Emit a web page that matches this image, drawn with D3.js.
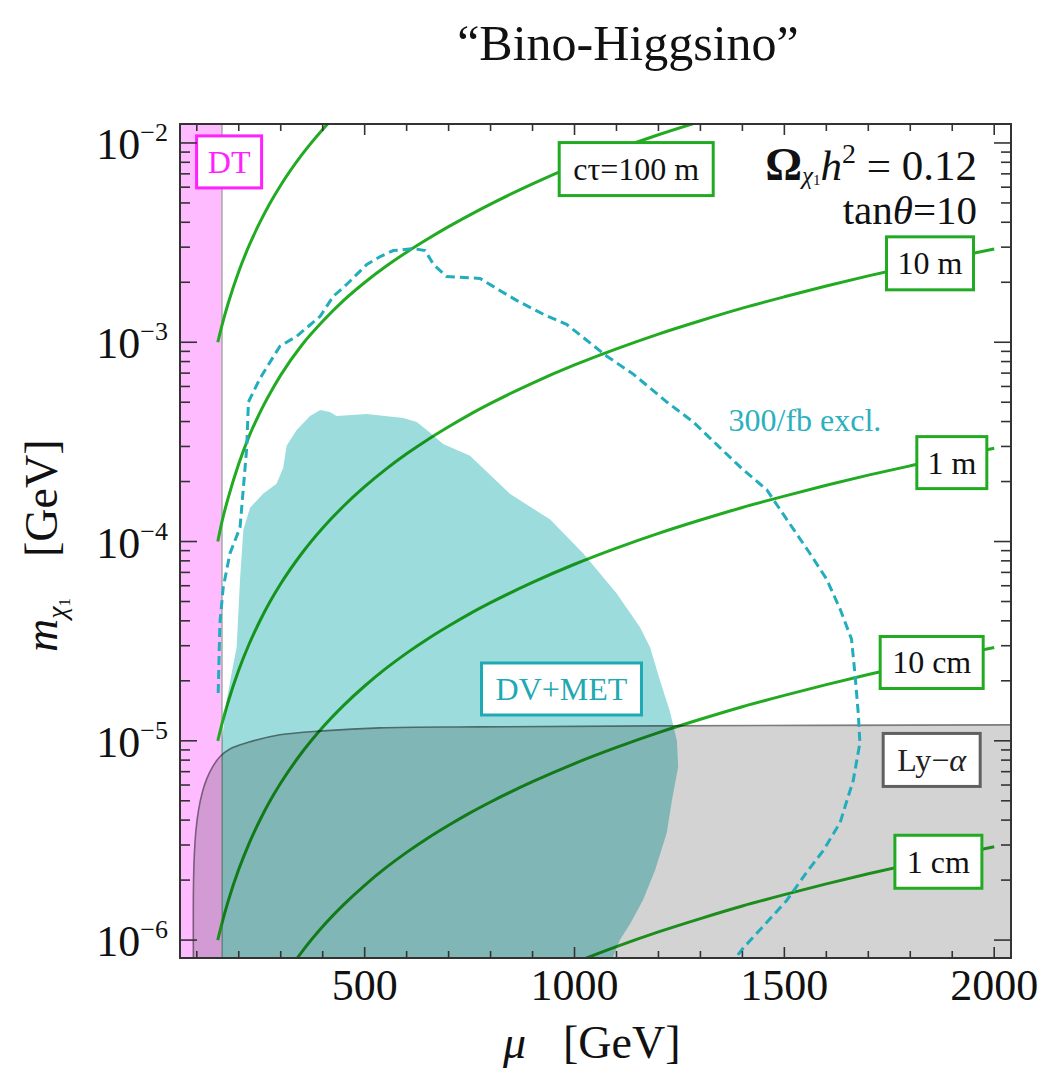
<!DOCTYPE html>
<html>
<head>
<meta charset="utf-8">
<script src="https://cdn.jsdelivr.net/npm/d3@7"></script>
<style>
  body { margin: 0; background: #fff; }
  text { font-family: 'Liberation Serif', 'DejaVu Serif', serif; }
</style>
</head>
<body>
<div id="chart"></div>
<script>
// ---- data (mu in GeV, log10 of m_chi1 in GeV) ----
const muRange = [60, 2040];
const mRange = [8.13e-7, 1.245e-2];
const dtRange = [60, 160];           // disappearing-track band

// c*tau contours, read on a shared mu grid
const ctMu = [150, 160, 175, 200, 225, 250, 275, 300, 350, 400, 450, 500, 550, 600, 650, 700, 750, 800, 900, 1000, 1100, 1200, 1300, 1400, 1500, 1600, 1700, 1800, 1900, 2000];
const ct1000m = [-3.000, -2.915, -2.803, -2.645, -2.513, -2.400, -2.300, -2.212, -2.060, -1.932, -1.822];
const ct100m  = [-4.000, -3.900, -3.780, -3.610, -3.470, -3.355, -3.255, -3.165, -3.015, -2.895, -2.790, -2.700, -2.620, -2.548, -2.482, -2.420, -2.362, -2.307, -2.205, -2.114, -2.033, -1.959, -1.892, -1.829];
const ct10m   = [-5.000, -4.915, -4.803, -4.645, -4.513, -4.400, -4.300, -4.212, -4.060, -3.932, -3.822, -3.725, -3.638, -3.560, -3.489, -3.424, -3.363, -3.307, -3.205, -3.114, -3.033, -2.959, -2.892, -2.829, -2.772, -2.718, -2.667, -2.620, -2.575, -2.532];
const ct1m    = [-6.000, -5.915, -5.803, -5.645, -5.513, -5.400, -5.300, -5.212, -5.060, -4.932, -4.822, -4.725, -4.638, -4.560, -4.489, -4.424, -4.363, -4.307, -4.205, -4.114, -4.033, -3.959, -3.892, -3.829, -3.772, -3.718, -3.667, -3.620, -3.575, -3.532];
const ct10cm  = [-7.000, -6.915, -6.803, -6.645, -6.513, -6.400, -6.300, -6.212, -6.060, -5.932, -5.822, -5.725, -5.638, -5.560, -5.489, -5.424, -5.363, -5.307, -5.205, -5.114, -5.033, -4.959, -4.892, -4.829, -4.772, -4.718, -4.667, -4.620, -4.575, -4.532];
const ct1cm   = [-8.000, -7.915, -7.803, -7.645, -7.513, -7.400, -7.300, -7.212, -7.060, -6.932, -6.822, -6.725, -6.638, -6.560, -6.489, -6.424, -6.363, -6.307, -6.205, -6.114, -6.033, -5.959, -5.892, -5.829, -5.772, -5.718, -5.667, -5.620, -5.575, -5.532];

// DV+MET reach (filled)
const dvMu   = [160, 160, 171, 184, 195, 203, 211, 227, 258, 290, 306, 314, 338, 370, 394, 417, 433, 505, 592, 624, 648, 687, 751, 806, 846, 942, 1021, 1100, 1156, 1180, 1204, 1227, 1244, 1247, 1232, 1220, 1192, 1163, 1132, 1108, 1085];
const dvLogM = [-6.12, -5.00, -4.80, -4.65, -4.53, -4.19, -3.94, -3.83, -3.76, -3.71, -3.63, -3.52, -3.44, -3.37, -3.34, -3.35, -3.37, -3.36, -3.38, -3.40, -3.44, -3.51, -3.57, -3.68, -3.76, -3.89, -4.06, -4.26, -4.43, -4.53, -4.70, -4.85, -5.00, -5.13, -5.30, -5.46, -5.65, -5.80, -5.92, -6.00, -6.12];

// 300/fb exclusion (dashed)
const exclMu   = [151, 155, 163, 179, 203, 219, 223, 251, 298, 338, 394, 425, 457, 505, 537, 568, 616, 644, 664, 695, 775, 822, 862, 926, 981, 1029, 1077, 1140, 1220, 1283, 1347, 1402, 1458, 1506, 1561, 1601, 1633, 1660, 1668, 1676, 1680, 1664, 1649, 1633, 1593, 1553, 1506, 1450, 1402, 1372];
const exclLogM = [-4.76, -4.41, -4.23, -4.06, -3.93, -3.53, -3.30, -3.18, -3.02, -2.97, -2.87, -2.77, -2.71, -2.61, -2.57, -2.54, -2.53, -2.54, -2.61, -2.67, -2.68, -2.74, -2.79, -2.86, -2.91, -2.99, -3.07, -3.16, -3.30, -3.40, -3.53, -3.64, -3.74, -3.89, -4.06, -4.19, -4.34, -4.49, -4.66, -4.86, -5.01, -5.20, -5.30, -5.41, -5.55, -5.66, -5.80, -5.93, -6.04, -6.12];

// Lyman-alpha bound (filled): top-left edge, then closed along the frame
const lyaMu   = [92, 92, 94, 98, 104, 113, 124, 138, 155, 180, 219, 298, 401, 537, 775, 1200, 2060];
const lyaLogM = [-6.12, -5.75, -5.58, -5.45, -5.35, -5.26, -5.19, -5.13, -5.08, -5.04, -5.01, -4.97, -4.95, -4.935, -4.93, -4.925, -4.92];

const xLabelTicks = [500, 1000, 1500, 2000];
const yLabelTicks = [-6, -5, -4, -3, -2];

// ---- layout ----
const W = 1048, H = 1074;
const pL = 180, pR = 1011, pT = 124, pB = 958;
const green = "#22ab22", teal = "#9cdcdc", cyan = "#22adbd";

const svg = d3.select("#chart").append("svg")
  .attr("width", W).attr("height", H);

const x = d3.scaleLinear().domain(muRange).range([pL, pR]);
const y = d3.scaleLog().domain(mRange).range([pB, pT]);
const pt = (mu, lm) => [x(mu), y(Math.pow(10, lm))];

svg.append("defs").append("clipPath").attr("id", "plot")
  .append("rect").attr("x", pL).attr("y", pT)
  .attr("width", pR - pL).attr("height", pB - pT);

const g = svg.append("g").attr("clip-path", "url(#plot)");

// DT band
g.append("rect")
  .attr("x", x(dtRange[0])).attr("y", pT)
  .attr("width", x(dtRange[1]) - x(dtRange[0])).attr("height", pB - pT)
  .attr("fill", "#ffbbff");
g.append("line")
  .attr("x1", x(dtRange[1])).attr("x2", x(dtRange[1]))
  .attr("y1", pT).attr("y2", pB)
  .attr("stroke", "#a8a8a8").attr("stroke-width", 1.5);

// c*tau lines
const line = d3.line().curve(d3.curveMonotoneX);
[ct1000m, ct100m, ct10m, ct1m, ct10cm, ct1cm].forEach(vals => {
  g.append("path")
    .attr("d", line(vals.map((v, i) => pt(ctMu[i], v))))
    .attr("fill", "none")
    .attr("stroke", green)
    .attr("stroke-width", 3);
});

// DV+MET region
g.append("path")
  .attr("d", d3.line()(dvMu.map((m, i) => pt(m, dvLogM[i]))) + "Z")
  .attr("fill", teal)
  .style("mix-blend-mode", "multiply");

// Ly-alpha region
const lyaPts = lyaMu.map((m, i) => pt(m, lyaLogM[i]));
const lyaEdge = d3.line().curve(d3.curveCatmullRom.alpha(0.5))(lyaPts);
const lyaEnd = lyaPts[lyaPts.length - 1];
g.append("path")
  .attr("d", lyaEdge + `L${lyaEnd[0]},${pB + 10}L${lyaPts[0][0]},${pB + 10}Z`)
  .attr("fill", "#d3d3d3")
  .attr("stroke", "#7c7c7c")
  .attr("stroke-width", 1.6)
  .style("mix-blend-mode", "multiply");

// 300/fb dashed contour
g.append("path")
  .attr("d", d3.line()(exclMu.map((m, i) => pt(m, exclLogM[i]))))
  .attr("fill", "none")
  .attr("stroke", cyan)
  .attr("stroke-width", 3)
  .attr("stroke-dasharray", "9,5");

// ---- labels ----
function box(mu, lm, w, h, txt, stroke, color) {
  const [cx, cy] = pt(mu, lm);
  const lg = svg.append("g").attr("transform", `translate(${cx},${cy})`);
  lg.append("rect")
    .attr("x", -w / 2).attr("y", -h / 2).attr("width", w).attr("height", h)
    .attr("fill", "#fff").attr("stroke", stroke).attr("stroke-width", 3);
  const t = lg.append("text")
    .attr("text-anchor", "middle").attr("y", 11)
    .attr("font-size", 32).attr("fill", color);
  txt.forEach(p => t.append("tspan").attr("font-style", p[1] ? "italic" : null).text(p[0]));
  return lg;
}
box(177, -2.095, 65, 52, [["DT"]], "#ff22ff", "#ff22ff");
box(1147, -2.131, 154, 53, [["cτ=100 m"]], green, "#111");
box(1847, -2.604, 87, 53, [["10 m"]], green, "#111");
box(1899, -3.604, 70, 52, [["1 m"]], green, "#111");
box(1851, -4.607, 103, 52, [["10 cm"]], green, "#111");
box(1867, -5.607, 87, 53, [["1 cm"]], green, "#111");
box(1851, -5.096, 97, 53, [["Ly−"], ["α", true]], "#606060", "#222");
box(969, -4.740, 160, 52, [["DV+MET"]], "#1fa9b3", "#1fa9b3");

{
  const [cx, cy] = pt(1549, -3.395);
  svg.append("text").attr("x", cx).attr("y", cy + 10)
    .attr("text-anchor", "middle").attr("font-size", 32).attr("fill", "#2ab0be")
    .text("300/fb excl.");
}

// relic density / tan theta
const om = svg.append("text").attr("x", 977).attr("y", 180)
  .attr("text-anchor", "end").attr("font-size", 43).attr("fill", "#111")
  .style("white-space", "pre");
om.append("tspan").attr("font-weight", "bold").attr("font-size", 46).text("Ω");
om.append("tspan").attr("font-style", "italic").attr("font-size", 25).attr("dy", 4).text("χ");
om.append("tspan").attr("font-size", 15).attr("dy", 1).text("1");
om.append("tspan").attr("font-style", "italic").attr("dy", -5).text("h");
om.append("tspan").attr("font-size", 28).attr("dy", -17).text("2");
om.append("tspan").attr("dy", 17).text(" = 0.12");

const tn = svg.append("text").attr("x", 977).attr("y", 224)
  .attr("text-anchor", "end").attr("font-size", 41).attr("fill", "#111");
tn.append("tspan").text("tan");
tn.append("tspan").attr("font-style", "italic").text("θ");
tn.append("tspan").text("=10");

// ---- frame and ticks ----
const axes = svg.append("g").attr("stroke", "#333").attr("stroke-width", 1.6);
x.ticks(20).forEach(v => {
  const len = xLabelTicks.includes(v) ? 11 : 7;
  axes.append("line").attr("x1", x(v)).attr("x2", x(v)).attr("y1", pB).attr("y2", pB - len);
  axes.append("line").attr("x1", x(v)).attr("x2", x(v)).attr("y1", pT).attr("y2", pT + len);
});
y.ticks().filter(v => v >= 9.99e-7).forEach(v => {
  const major = Math.abs(Math.log10(v) - Math.round(Math.log10(v))) < 1e-6;
  const len = major ? 17 : 10;
  axes.append("line").attr("x1", pL).attr("x2", pL + len).attr("y1", y(v)).attr("y2", y(v));
  axes.append("line").attr("x1", pR).attr("x2", pR - len).attr("y1", y(v)).attr("y2", y(v));
});
svg.append("rect")
  .attr("x", pL).attr("y", pT).attr("width", pR - pL).attr("height", pB - pT)
  .attr("fill", "none").attr("stroke", "#333").attr("stroke-width", 2);

// tick labels
xLabelTicks.forEach(v => {
  svg.append("text").attr("x", x(v)).attr("y", 1000)
    .attr("text-anchor", "middle").attr("font-size", 44).attr("fill", "#111").text(v);
});
yLabelTicks.forEach(k => {
  const t = svg.append("text").attr("x", 168).attr("y", y(Math.pow(10, k)) + 16)
    .attr("text-anchor", "end").attr("font-size", 44).attr("fill", "#111");
  t.append("tspan").text("10");
  t.append("tspan").attr("font-size", 26).attr("dy", -18).text("−" + Math.abs(k));
});

// axis titles
const xt = svg.append("text").attr("x", 503).attr("y", 1058).attr("font-size", 46).attr("fill", "#111");
xt.append("tspan").attr("font-style", "italic").text("μ");
xt.append("tspan").attr("x", 563).text("[GeV]");

const yt = svg.append("text").attr("transform", "translate(57,652) rotate(-90)")
  .attr("font-size", 46).attr("fill", "#111");
yt.append("tspan").attr("font-style", "italic").text("m");
yt.append("tspan").attr("font-style", "italic").attr("font-size", 28).attr("dy", 9).text("χ");
yt.append("tspan").attr("font-size", 17).attr("dy", 4).text("1");
yt.append("tspan").attr("x", 95).attr("dy", -13).text("[GeV]");

// title
svg.append("text").attr("x", 628).attr("y", 60)
  .attr("text-anchor", "middle").attr("font-size", 50).attr("fill", "#111")
  .text("“Bino-Higgsino”");
</script>
</body>
</html>
